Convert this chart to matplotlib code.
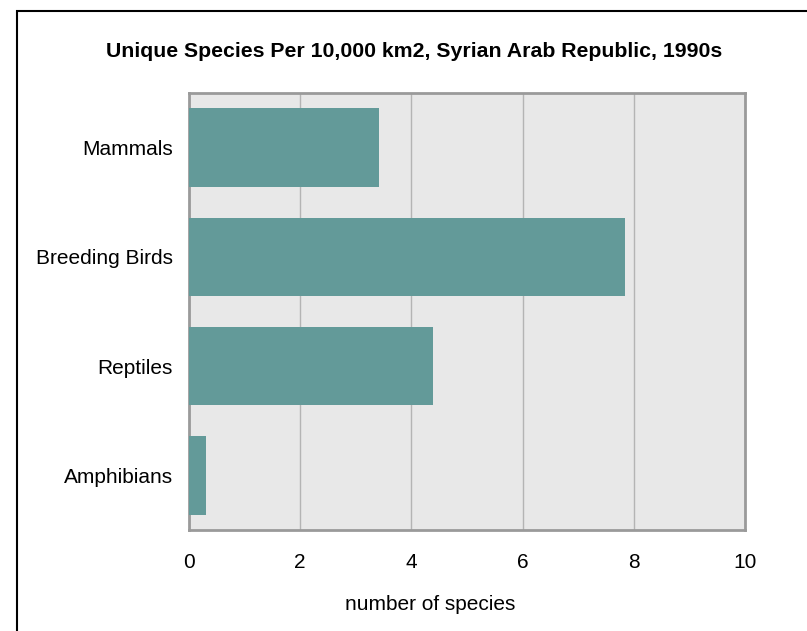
import matplotlib
matplotlib.use("Agg")
import matplotlib.pyplot as plt
from matplotlib.patches import Rectangle

categories = ["Mammals", "Breeding Birds", "Reptiles", "Amphibians"]
values = [3.42, 7.84, 4.39, 0.31]
xticks = [0, 2, 4, 6, 8, 10]
title = "Unique Species Per 10,000 km2, Syrian Arab Republic, 1990s"
xlabel = "number of species"

plt.rcParams['font.family'] = ['Liberation Sans', 'DejaVu Sans']

W, H = 807, 631
fig = plt.figure(figsize=(W/100, H/100), dpi=100)
ax = fig.add_axes([189/W, 1-530/H, (745-189)/W, (530-93)/H])

ypos = list(range(len(categories)))
ax.barh(ypos, values, height=0.72, color="#639a99", zorder=3)
ax.set_ylim(len(categories)-0.5, -0.5)
ax.set_xlim(0, 10)
ax.set_yticks(ypos)
ax.set_yticklabels(categories, fontsize=15)
ax.set_xticks(xticks)
ax.set_xticklabels([str(t) for t in xticks], fontsize=15)
ax.tick_params(axis='both', length=0)
ax.tick_params(axis='y', pad=11.5)
ax.tick_params(axis='x', pad=16.5)
ax.set_facecolor("#e8e8e8")
ax.grid(axis='x', color="#b4b4b4", linewidth=1.0, zorder=1)
ax.set_axisbelow(True)
for s in ax.spines.values():
    s.set_color("#9a9a9a")
    s.set_linewidth(2)

fig.text(430/W, 1-605/H, xlabel, ha='center', va='center', fontsize=15)
fig.text(414/W, 1-51.5/H, title, ha='center', va='center', fontsize=15.3, fontweight='bold')

fig.patches.append(Rectangle((16.5/W, -0.1), 1.2, 1-10.5/H+0.1, transform=fig.transFigure,
                             fill=False, edgecolor="black", linewidth=1.5))

fig.savefig("out.png", dpi=100)
